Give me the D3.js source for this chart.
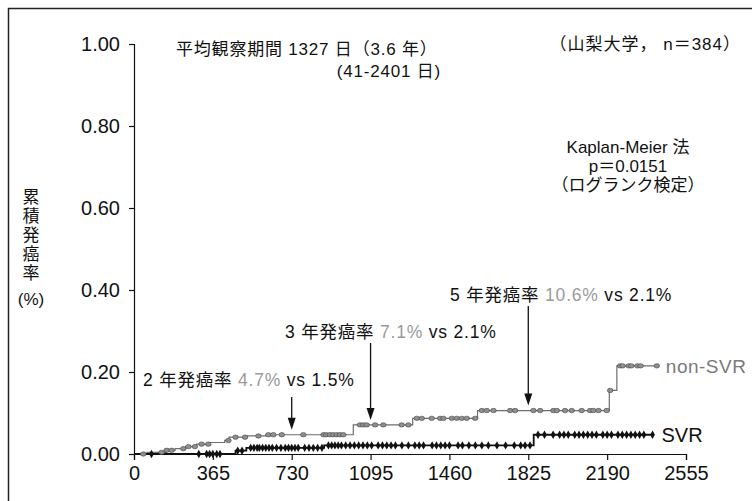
<!DOCTYPE html>
<html>
<head>
<meta charset="utf-8">
<script src="https://cdn.jsdelivr.net/npm/d3@7"></script>
<style>
  body { margin: 0; background: #fff; }
  text { font-family: "Liberation Sans", Arial, "Noto Sans CJK JP", sans-serif; fill: #111; }
  .jp { font-family: "Liberation Sans", "Noto Sans CJK JP", sans-serif; }
</style>
</head>
<body>
<div id="chart"></div>
<script>
// DATA
const xTicks = [0, 365, 730, 1095, 1460, 1825, 2190, 2555];
const yTicks = [0, 0.2, 0.4, 0.6, 0.8, 1.0];

// step points [day, cumulative incidence]
const nonSvrSteps = [[0, 0], [60, 0.004], [150, 0.009], [190, 0.013], [240, 0.018], [290, 0.024],
    [345, 0.028], [420, 0.033], [440, 0.041], [515, 0.044], [610, 0.047], [1015, 0.071],
    [1290, 0.087], [1590, 0.106], [2200, 0.155], [2235, 0.215], [2420, 0.215]];
const svrSteps = [[0, 0], [470, 0.008], [520, 0.015], [880, 0.021], [1850, 0.047], [2400, 0.047]];

// censored days
const nonSvrCensor = [43, 128, 151, 174, 228, 252, 282, 313, 344, 437, 470, 514, 576, 622, 645, 684,
    784, 877, 890, 907, 922, 938, 953, 969, 1046, 1062, 1077, 1116, 1154, 1239, 1270, 1309, 1332,
    1378, 1417, 1432, 1471, 1494, 1517, 1540, 1579, 1610, 1633, 1664, 1741, 1764, 1849, 1880, 1941,
    1957, 1995, 2026, 2072, 2111, 2126, 2150, 2188, 2204, 2250, 2262, 2290, 2302, 2330, 2345, 2420];
const svrCensor = [81, 300, 336, 350, 365, 383, 398, 480, 500, 540, 555, 570, 580, 595, 610, 625, 640,
    660, 680, 700, 715, 730, 745, 760, 790, 810, 830, 850, 870, 900, 915, 930, 945, 960, 980, 1000,
    1020, 1040, 1060, 1080, 1100, 1130, 1150, 1170, 1190, 1210, 1240, 1270, 1300, 1320, 1340, 1380,
    1400, 1420, 1440, 1460, 1500, 1520, 1550, 1580, 1610, 1640, 1680, 1720, 1760, 1790, 1810, 1833,
    1870, 1900, 1940, 1970, 1990, 2010, 2040, 2060, 2080, 2100, 2120, 2140, 2170, 2190, 2210, 2240,
    2260, 2280, 2300, 2320, 2340, 2360, 2400];

// rate annotations
const rateNotes = [
    { year: 2, day: 730, non: '4.7%', svr: '1.5%' },
    { year: 3, day: 1095, non: '7.1%', svr: '2.1%' },
    { year: 5, day: 1825, non: '10.6%', svr: '2.1%' }
];

// FIGURE
const FIGURE = { WIDTH: 752, HEIGHT: 501 };
const MARGINS = { LEFT: 134, TOP: 44, RIGHT: 66, BOTTOM: 47 };
const PLOT = {
    WIDTH: FIGURE.WIDTH - MARGINS.LEFT - MARGINS.RIGHT,
    HEIGHT: FIGURE.HEIGHT - MARGINS.TOP - MARGINS.BOTTOM
};

const x = d3.scaleLinear().domain([0, 2555]).range([0, PLOT.WIDTH]);
const y = d3.scaleLinear().domain([0, 1]).range([PLOT.HEIGHT, 0]);

function stepAt(steps, day) {
    let v = 0;
    steps.forEach(s => { if (s[0] <= day) v = s[1]; });
    return v;
}

const svg = d3.select('#chart').append('svg')
    .attr('width', FIGURE.WIDTH)
    .attr('height', FIGURE.HEIGHT);

// frame (only top and left edges visible)
svg.append('path')
    .attr('d', 'M8.5,501V8.5H752')
    .attr('fill', 'none')
    .attr('stroke', '#222')
    .attr('stroke-width', 1.5);

const plot = svg.append('g')
    .attr('transform', `translate(${MARGINS.LEFT}, ${MARGINS.TOP})`);

// axes
const yAxis = plot.append('g')
    .call(d3.axisLeft(y).tickValues(yTicks).tickFormat(d3.format('.2f')).tickSize(5).tickPadding(9));
const xAxis = plot.append('g')
    .attr('transform', `translate(0, ${PLOT.HEIGHT})`)
    .call(d3.axisBottom(x).tickValues(xTicks).tickFormat(d3.format('d')).tickSize(6).tickPadding(6));

[yAxis, xAxis].forEach(a => {
    a.selectAll('path, line').attr('stroke', '#111').attr('stroke-width', 1.2);
    a.selectAll('text').attr('font-size', 20).attr('fill', '#111')
        .style('font-family', '"Liberation Sans", Arial, sans-serif');
});

// y axis title, stacked vertically
const titleChars = ['累', '積', '発', '癌', '率'];
svg.append('g').selectAll('text')
    .data(titleChars)
    .enter().append('text')
        .attr('class', 'jp')
        .attr('x', 31)
        .attr('y', (d, i) => 203 + i * 19)
        .attr('text-anchor', 'middle')
        .attr('font-size', 17)
        .text(d => d);
svg.append('text')
    .attr('x', 31).attr('y', 305)
    .attr('text-anchor', 'middle')
    .attr('font-size', 17)
    .text('(%)');

// curves
const line = d3.line()
    .x(d => x(d[0]))
    .y(d => y(d[1]))
    .curve(d3.curveStepAfter);

plot.append('path')
    .datum(nonSvrSteps)
    .attr('d', line)
    .attr('fill', 'none')
    .attr('stroke', '#6e6e6e')
    .attr('stroke-width', 1.2);

plot.append('path')
    .datum(svrSteps)
    .attr('d', line)
    .attr('fill', 'none')
    .attr('stroke', '#111')
    .attr('stroke-width', 1.8);

// censor marks
plot.append('g').selectAll('path')
    .data(svrCensor)
    .enter().append('path')
        .attr('transform', d => `translate(${x(d)}, ${y(stepAt(svrSteps, d))})`)
        .attr('d', d3.symbol().type(d3.symbolDiamond).size(20))
        .attr('fill', '#111');

plot.append('g').selectAll('ellipse')
    .data(nonSvrCensor)
    .enter().append('ellipse')
        .attr('cx', d => x(d))
        .attr('cy', d => y(stepAt(nonSvrSteps, d)))
        .attr('rx', 2.8)
        .attr('ry', 2.2)
        .attr('fill', '#8f8f8f')
        .attr('stroke', '#444')
        .attr('stroke-width', 0.6);

// group labels
plot.append('text')
    .attr('x', x(2420) + 9)
    .attr('y', y(0.215) + 7)
    .attr('font-size', 19)
    .attr('letter-spacing', 0.5)
    .style('fill', '#7a7a7a')
    .text('non-SVR');
plot.append('text')
    .attr('x', x(2400) + 9)
    .attr('y', y(0.047) + 7)
    .attr('font-size', 20)
    .text('SVR');

// rate annotations with arrows
const notePos = { 2: { tx: 143, ty: 386, top: 397 }, 3: { tx: 285, ty: 338, top: 343 }, 5: { tx: 450, ty: 301, top: 306 } };
rateNotes.forEach(n => {
    const p = notePos[n.year];
    const t = svg.append('text')
        .attr('class', 'jp')
        .attr('x', p.tx)
        .attr('y', p.ty)
        .attr('font-size', 17.5)
        .attr('letter-spacing', 0.8);
    t.append('tspan').text(`${n.year} 年発癌率 `);
    t.append('tspan').style('fill', '#9a9a9a').text(n.non);
    t.append('tspan').text(` vs ${n.svr}`);

    const ax = MARGINS.LEFT + x(n.day);
    const tipY = MARGINS.TOP + y(stepAt(nonSvrSteps, n.day)) - 5;
    svg.append('line')
        .attr('x1', ax).attr('x2', ax)
        .attr('y1', p.top).attr('y2', tipY - 8)
        .attr('stroke', '#111')
        .attr('stroke-width', 1.3);
    svg.append('path')
        .attr('d', `M${ax - 4},${tipY - 12}L${ax + 4},${tipY - 12}L${ax},${tipY}Z`)
        .attr('fill', '#111');
});

// text blocks
svg.append('text').attr('class', 'jp')
    .attr('x', 176).attr('y', 55).attr('font-size', 17)
    .attr('letter-spacing', 0.8)
    .text('平均観察期間 1327 日（3.6 年）');
svg.append('text').attr('class', 'jp')
    .attr('x', 441).attr('y', 77).attr('font-size', 17)
    .attr('letter-spacing', 0.8)
    .attr('text-anchor', 'end')
    .text('(41-2401 日)');
svg.append('text').attr('class', 'jp')
    .attr('x', 741).attr('y', 50).attr('font-size', 17)
    .attr('letter-spacing', 1)
    .attr('text-anchor', 'end')
    .text('（山梨大学， n＝384）');

const km = ['Kaplan-Meier 法', 'p＝0.0151', '（ログランク検定）'];
svg.append('g').selectAll('text')
    .data(km)
    .enter().append('text')
        .attr('class', 'jp')
        .attr('x', 628)
        .attr('y', (d, i) => 153 + i * 19)
        .attr('text-anchor', 'middle')
        .attr('font-size', 17)
        .text(d => d);
</script>
</body>
</html>
